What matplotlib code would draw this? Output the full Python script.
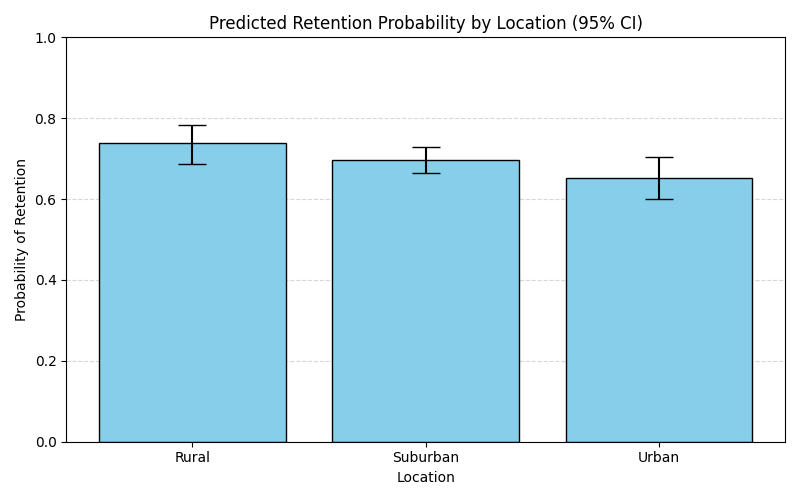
import matplotlib
matplotlib.use("Agg")
import matplotlib.pyplot as plt
import numpy as np

locations = ["Rural", "Suburban", "Urban"]
prob = [0.738, 0.696, 0.652]
ci_low = [0.686, 0.664, 0.600]
ci_high = [0.783, 0.728, 0.704]

yerr = np.array([[p - lo for p, lo in zip(prob, ci_low)],
                 [hi - p for p, hi in zip(prob, ci_high)]])

fig, ax = plt.subplots(figsize=(8, 5), dpi=100)
ax.bar(locations, prob, color="skyblue", edgecolor="black", yerr=yerr, capsize=10)
ax.set_ylim(0, 1)
ax.set_title("Predicted Retention Probability by Location (95% CI)")
ax.set_xlabel("Location")
ax.set_ylabel("Probability of Retention")
ax.grid(axis="y", linestyle="--", alpha=0.5)
ax.set_axisbelow(True)
fig.tight_layout()
fig.savefig("out.png")
